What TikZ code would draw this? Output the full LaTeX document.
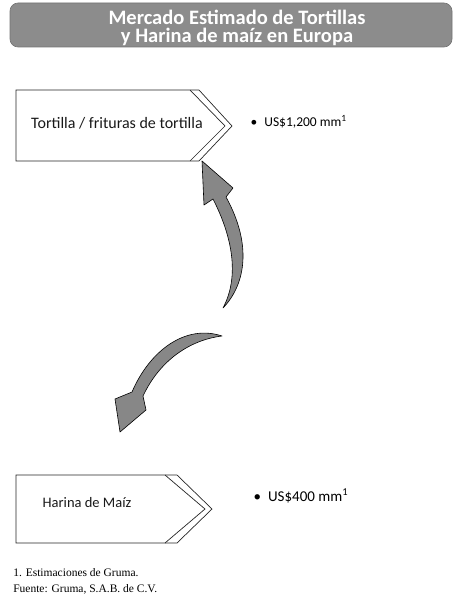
\documentclass[tikz,border=0pt]{standalone}
\usepackage{fontspec}
\setmainfont{Carlito}
\newfontfamily\notefont{Liberation Serif}
\usetikzlibrary{positioning}

\begin{document}
\begin{tikzpicture}[x=1pt, y=-1pt, semithick,
    banner/.style={fill=black!45, draw=black!55, rounded corners=8pt},
    titletext/.style={text=white, font=\fontsize{20.5}{18.5}\selectfont\bfseries, align=center},
    boxline/.style={draw=black!85, line width=0.7pt},
    boxtext/.style={text=black!90},
    bullettext/.style={anchor=west},
    bigarrow/.style={fill=black!47, draw=black, line width=0.6pt, line join=round},
    note/.style={font=\notefont\fontsize{11.5}{13}\selectfont, anchor=west, inner sep=0pt}]

    \useasboundingbox (0,0) rectangle (457,602);

    % title banner
    \path[banner] (10,3) rectangle (452,47);
    \node[titletext] (title) at (237,28) {Mercado Estimado de Tortillas\\y Harina de maíz en Europa};

    % tortilla box
    \draw[boxline] (16,90) -- (199,90) -- (232,126) -- (199,161) -- (16,161) -- cycle;
    \draw[boxline] (190,90) -- (225,126) -- (190,161);
    \node[boxtext, font=\fontsize{16}{18}\selectfont] (tortilla) at (117,123) {Tortilla / frituras de tortilla};
    \node[bullettext, font=\fontsize{13.5}{15}\selectfont] (valtortilla) at (247,122) {\textbullet\hspace{7pt}US\$1,200 mm\textsuperscript{1}};

    % harina box
    \draw[boxline] (16,475) -- (177,475) -- (212,509) -- (177,543) -- (16,543) -- cycle;
    \draw[boxline] (165,475) -- (205,509) -- (165,543);
    \node[boxtext, font=\fontsize{14.5}{16}\selectfont] (harina) at (87,503) {Harina de Maíz};
    \node[bullettext, font=\fontsize{15}{17}\selectfont] (valharina) at (250,496) {\textbullet\hspace{7pt}US\$400 mm\textsuperscript{1}};

    % curved arrows
    \coordinate (uptail) at (223,308);
    \coordinate (uptip) at (202,161);
    \coordinate (downtail) at (222,336);
    \coordinate (downtip) at (120,432);

    \path[bigarrow] (uptail) .. controls (246,284) and (252,244) .. (226,197)
        -- (233,188) -- (uptip) -- (204,205) -- (213,199)
        .. controls (232,236) and (240,276) .. (uptail) -- cycle;

    \path[bigarrow] (downtail) .. controls (186,324) and (150,350) .. (132,392)
        -- (115,399) -- (downtip) -- (146,410) -- (143,396)
        .. controls (160,360) and (190,340) .. (downtail) -- cycle;

    % notes
    \node[note] (note1) at (13,573) {1. Estimaciones de Gruma.};
    \node[note] (source) at (13,589) {Fuente: Gruma, S.A.B. de C.V.};

\end{tikzpicture}
\end{document}
